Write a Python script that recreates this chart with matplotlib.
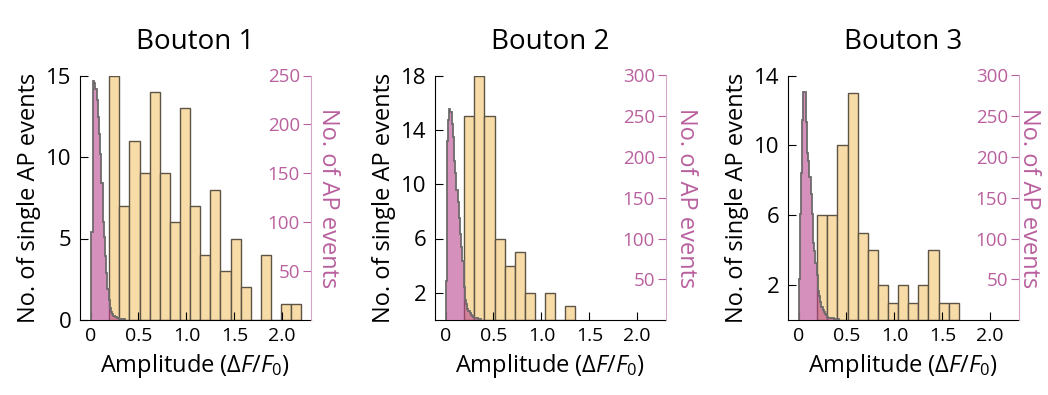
import numpy as np
import matplotlib
matplotlib.use("Agg")
from matplotlib import pyplot as plt

plt.rcParams['font.family'] = ['Open Sans', 'DejaVu Sans']
plt.rcParams['mathtext.fontset'] = 'custom'
plt.rcParams['mathtext.rm'] = 'Open Sans'
plt.rcParams['mathtext.it'] = 'Open Sans:italic'

titles = ["Bouton 1", "Bouton 2", "Bouton 3"]

# single AP event amplitudes (yellow bars), bins start at ~0.2
single_start = 0.195
single_width = 0.1055
single1 = [15, 7, 11, 9, 14, 9, 6, 13, 7, 4, 8, 3, 5, 2, 0, 4, 0, 1, 1]
single2 = [15, 18, 15, 6, 4, 5, 2, 0, 2, 0, 1]
single3 = [6, 6, 10, 13, 5, 4, 2, 1, 2, 1, 2, 4, 1, 1]

# all AP events (pink fine histogram), bins from 0
ap_width = 0.0125
ap1 = [90, 90, 244, 242, 236, 225, 208, 190, 170, 140, 100, 85, 65, 48, 32, 20,
       12, 8, 6, 4, 3, 3, 2, 2, 1, 1, 1, 0, 1]
ap2 = [48, 220, 245, 259, 255, 240, 225, 195, 180, 160, 145, 125, 105, 90, 72,
       40, 25, 20, 14, 11, 8, 6, 5, 4, 3, 2, 2, 1, 1, 1]
ap3 = [50, 130, 180, 245, 280, 280, 243, 205, 195, 175, 155, 130, 95, 85, 70,
       55, 36, 30, 22, 16, 12, 10, 7, 6, 4, 3, 3, 2, 2, 2, 1, 1, 1, 1]

left_ticks = [[0, 5, 10, 15], [2, 6, 10, 14, 18], [2, 6, 10, 14]]
left_max = [15, 18, 14]
right_ticks = [[50, 100, 150, 200, 250], [50, 100, 150, 200, 250, 300],
               [50, 100, 150, 200, 250, 300]]
right_max = [250, 300, 300]
x_ticks = [0, 0.5, 1.0, 1.5, 2.0]
x_labels = ["0", "0.5", "1.0", "1.5", "2.0"]

yellow = "#f8dca8"
yellow_edge = "#5e5446"
pink = "#b8418a"
pink_text = "#b9609e"
pink_spine = "#d6a6c8"

fig = plt.figure(figsize=(10.48, 3.95), dpi=100)
lefts = [80, 435, 788]
label_x = [1.02, 1.035, 0.99]
W, H = 1048, 395

for i, (single, ap) in enumerate(zip([single1, single2, single3], [ap1, ap2, ap3])):
    ax = fig.add_axes([lefts[i] / W, 1 - 320 / H, 231 / W, 244.5 / H])
    edges = single_start + single_width * np.arange(len(single))
    ax.bar(edges, single, width=single_width, align='edge', color=yellow,
           edgecolor=yellow_edge, linewidth=1.0)
    ax.set_xlim(-0.11, 2.30)
    ax.set_ylim(0, left_max[i])
    ax.set_yticks(left_ticks[i])
    ax.set_xticks(x_ticks)
    ax.set_xticklabels(x_labels)
    ax.tick_params(axis='y', direction='in', length=6, labelsize=16, pad=6)
    ax.tick_params(axis='x', direction='in', length=6, labelsize=14, pad=5)
    ax.spines['top'].set_visible(False)
    ax.spines['right'].set_visible(False)
    ax.set_ylabel("No. of single AP events", fontsize=17, labelpad=4)
    ax.set_xlabel(r"Amplitude ($\Delta F/F_0$)", fontsize=17, labelpad=5)
    ax.set_title(titles[i], fontsize=20, pad=19)

    ax2 = ax.twinx()
    ap_edges = ap_width * np.arange(len(ap) + 1)
    ax2.stairs(ap, ap_edges, fill=True, color=pink, alpha=0.58, linewidth=0)
    ax2.stairs(ap, ap_edges, color="#6e6a6c", linewidth=1.3)
    ax2.set_ylim(0, right_max[i])
    ax2.set_yticks(right_ticks[i])
    ax2.tick_params(axis='y', direction='in', length=6, labelsize=13.5,
                    colors=pink_text, pad=-8)
    for lab in ax2.get_yticklabels():
        lab.set_horizontalalignment('right')
    ax2.spines['right'].set_color(pink_spine)
    for s in ['top', 'left', 'bottom']:
        ax2.spines[s].set_visible(False)
    ax2.set_ylabel("No. of AP events", fontsize=17, color=pink_text,
                   rotation=270, va='bottom')
    ax2.yaxis.set_label_coords(label_x[i], 0.5)

fig.savefig("out.png", dpi=100)
